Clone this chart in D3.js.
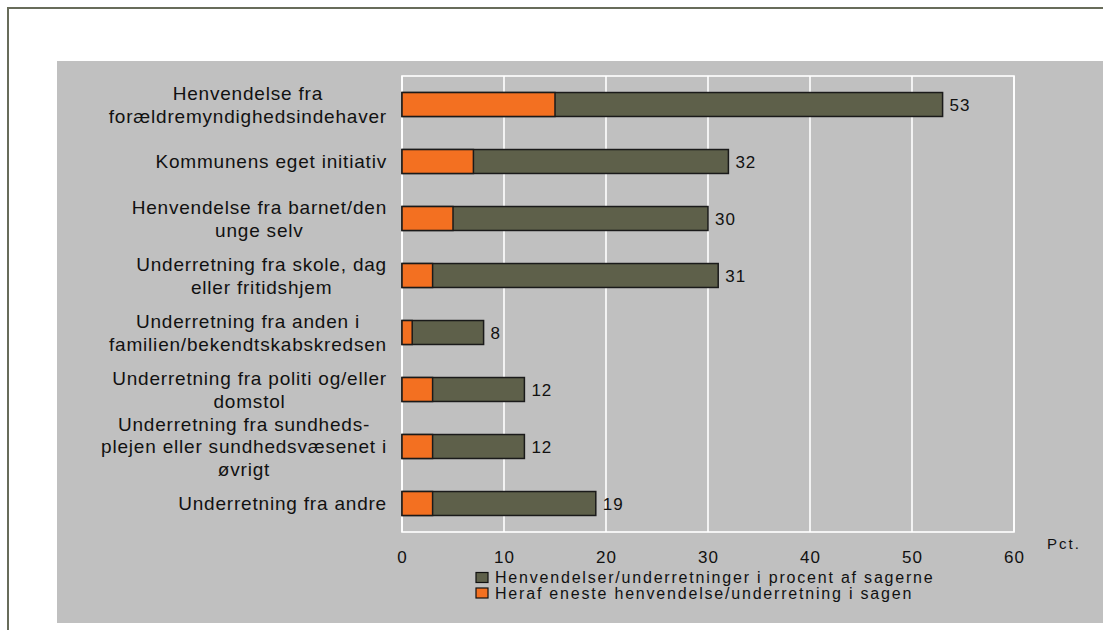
<!DOCTYPE html>
<html>
<head>
<meta charset="utf-8">
<script src="https://cdn.jsdelivr.net/npm/d3@7"></script>
<style>
  body { margin: 0; background: #ffffff; }
  text { font-family: "Liberation Sans", Arial, sans-serif; fill: #111111; }
</style>
</head>
<body>
<div id="chart-area"></div>
<script>
// chart values
var categories = [
    "Henvendelse fra\nforældremyndighedsindehaver",
    "Kommunens eget initiativ",
    "Henvendelse fra barnet/den\nunge selv",
    "Underretning fra skole, dag\neller fritidshjem",
    "Underretning fra anden i\nfamilien/bekendtskabskredsen",
    "Underretning fra politi og/eller\ndomstol",
    "Underretning fra sundheds-\nplejen eller sundhedsvæsenet i\nøvrigt",
    "Underretning fra andre"
];
var totals = [53, 32, 30, 31, 8, 12, 12, 19];
var sole = [15, 7, 5, 3, 1, 3, 3, 3];
var xTicks = [0, 10, 20, 30, 40, 50, 60];
var seriesNames = [
    "Henvendelser/underretninger i procent af sagerne",
    "Heraf eneste henvendelse/underretning i sagen"
];
var unitLabel = "Pct.";

var width = 1103, height = 630;
var plot = {left: 402, right: 1014, top: 76, bottom: 532};
var olive = "#5e604a", orange = "#f37021";

var svg = d3.select("#chart-area")
    .append("svg")
    .attr("width", width)
    .attr("height", height);

// outer frame and grey panel
svg.append("rect")
    .attr("x", 8).attr("y", 8)
    .attr("width", width).attr("height", height)
    .attr("fill", "#ffffff")
    .attr("stroke", "#686c5a")
    .attr("stroke-width", 2);

svg.append("rect")
    .attr("x", 57).attr("y", 61)
    .attr("width", width - 57).attr("height", 623 - 61)
    .attr("fill", "#c0c0c0");

// scales
var x = d3.scaleLinear()
    .domain([0, 60])
    .range([plot.left, plot.right]);

var y = d3.scaleBand()
    .domain(d3.range(categories.length))
    .range([plot.top, plot.bottom])
    .paddingInner(0.58)
    .paddingOuter(0.29);

// white gridlines and plot border
svg.append("g")
    .selectAll("line")
    .data(xTicks)
    .enter()
    .append("line")
    .attr("x1", function (d) { return x(d); })
    .attr("x2", function (d) { return x(d); })
    .attr("y1", plot.top)
    .attr("y2", plot.bottom)
    .attr("stroke", "#ffffff")
    .attr("stroke-width", 1.6);

svg.append("rect")
    .attr("x", plot.left).attr("y", plot.top)
    .attr("width", plot.right - plot.left)
    .attr("height", plot.bottom - plot.top)
    .attr("fill", "none")
    .attr("stroke", "#ffffff")
    .attr("stroke-width", 1.6);

// x axis (labels only)
var xAxis = svg.append("g")
    .attr("transform", "translate(0," + plot.bottom + ")")
    .call(d3.axisBottom(x).tickValues(xTicks).tickSize(0).tickPadding(19));
xAxis.select(".domain").remove();
xAxis.selectAll("text")
    .attr("fill", "#111111")
    .style("font-family", "'Liberation Sans', Arial, sans-serif")
    .style("font-size", "17px")
    .style("letter-spacing", "1px");

svg.append("text")
    .attr("x", 1064)
    .attr("y", 549)
    .attr("text-anchor", "middle")
    .style("font-size", "15px")
    .style("letter-spacing", "2px")
    .text(unitLabel);

// bars: full value first, then the orange part on top
svg.append("g")
    .selectAll("rect")
    .data(totals)
    .enter()
    .append("rect")
    .attr("x", x(0))
    .attr("y", function (d, i) { return y(i); })
    .attr("width", function (d) { return x(d) - x(0); })
    .attr("height", y.bandwidth())
    .attr("fill", olive)
    .attr("stroke", "#1a1a1a")
    .attr("stroke-width", 1.5);

svg.append("g")
    .selectAll("rect")
    .data(sole)
    .enter()
    .append("rect")
    .attr("x", x(0))
    .attr("y", function (d, i) { return y(i); })
    .attr("width", function (d) { return x(d) - x(0); })
    .attr("height", y.bandwidth())
    .attr("fill", orange)
    .attr("stroke", "#1a1a1a")
    .attr("stroke-width", 1.5);

// value labels
svg.append("g")
    .selectAll("text")
    .data(totals)
    .enter()
    .append("text")
    .attr("x", function (d) { return x(d) + 7; })
    .attr("y", function (d, i) { return y(i) + y.bandwidth() / 2; })
    .attr("dy", "0.36em")
    .style("font-size", "17px")
    .style("letter-spacing", "1px")
    .text(function (d) { return d; });

// category labels, centred lines, block right aligned against the axis
var lineHeight = 22.5;
var labelRight = 387;
categories.forEach(function (label, i) {
    var lines = label.split("\n");
    var cy = y(i) + y.bandwidth() / 2;
    var g = svg.append("g");
    var texts = g.selectAll("text")
        .data(lines)
        .enter()
        .append("text")
        .attr("text-anchor", "middle")
        .attr("y", function (d, j) {
            return cy + (j - (lines.length - 1) / 2) * lineHeight;
        })
        .attr("dy", "0.36em")
        .style("font-size", "19px")
        .style("letter-spacing", "0.8px")
        .text(function (d) { return d; });
    var maxW = 0;
    texts.each(function () {
        maxW = Math.max(maxW, this.getComputedTextLength());
    });
    texts.attr("x", labelRight - maxW / 2);
});

// legend
var legend = svg.append("g")
    .attr("class", "legend");

legend.selectAll("rect")
    .data(seriesNames)
    .enter()
    .append("rect")
    .attr("x", 476)
    .attr("y", function (d, i) { return 572.5 + i * 15.5; })
    .attr("width", 12)
    .attr("height", 10)
    .attr("fill", function (d, i) { return i == 0 ? olive : orange; })
    .attr("stroke", "#111111")
    .attr("stroke-width", 1.2);

legend.selectAll("text")
    .data(seriesNames)
    .enter()
    .append("text")
    .attr("x", 495)
    .attr("y", function (d, i) { return 577.5 + i * 15.5; })
    .attr("dy", "0.36em")
    .style("font-size", "16px")
    .style("letter-spacing", "1.8px")
    .text(function (d) { return d; });
</script>
</body>
</html>
